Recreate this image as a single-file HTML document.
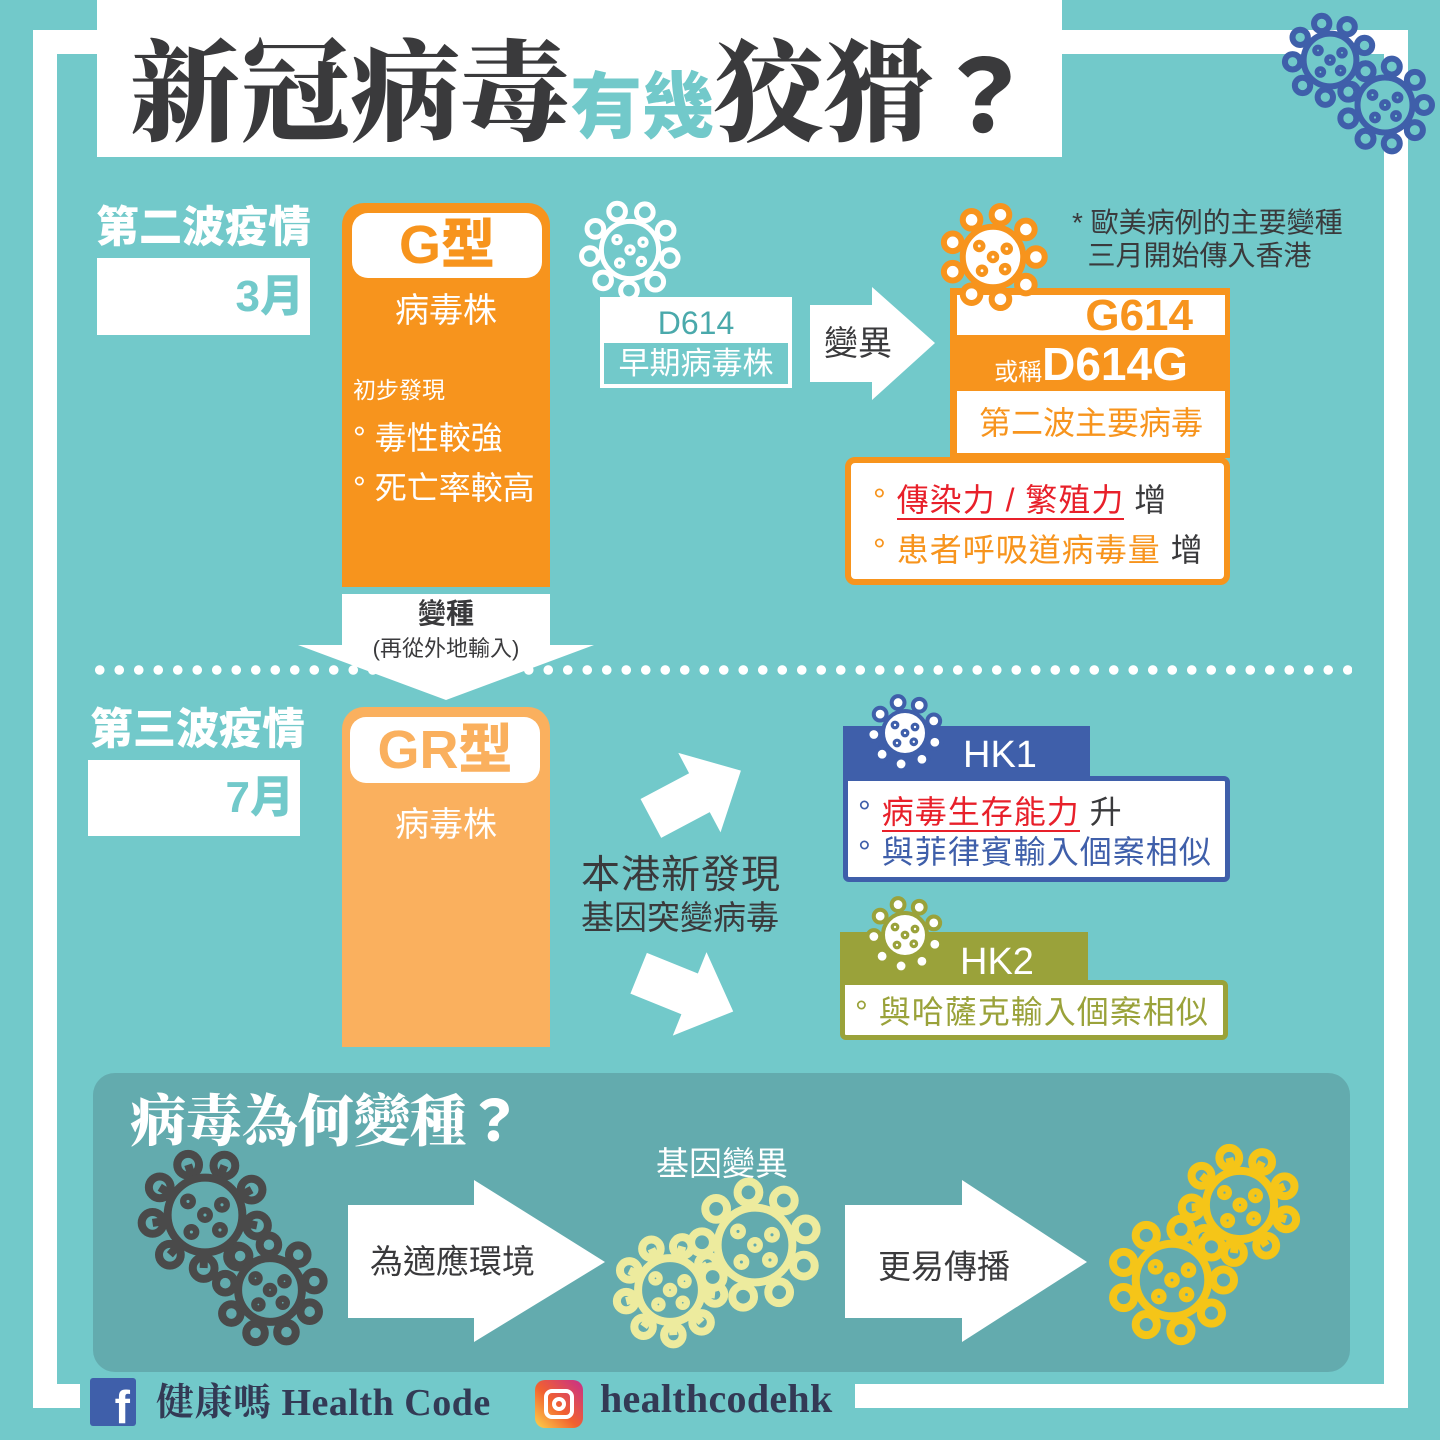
<!DOCTYPE html>
<html><head><meta charset="utf-8">
<style>
*{margin:0;padding:0;box-sizing:border-box}
body{width:1440px;height:1440px;position:relative;background:#72C9CA;font-family:"Liberation Sans","Noto Sans CJK TC",sans-serif;overflow:hidden}
.a{position:absolute}
.w{background:#fff}
</style></head><body>
<!-- frame -->
<div class="a w" style="left:33px;top:30px;width:1375px;height:24px"></div>
<div class="a w" style="left:33px;top:30px;width:24px;height:1378px"></div>
<div class="a w" style="left:1384px;top:30px;width:24px;height:1378px"></div>
<div class="a w" style="left:33px;top:1384px;width:1375px;height:24px"></div>
<div class="a" style="left:57px;top:54px;width:1327px;height:1330px;background:#72C9CA"></div>
<div class="a" style="left:80px;top:1375px;width:775px;height:50px;background:#72C9CA"></div>

<!-- title -->
<div class="a w" style="left:97px;top:0;width:965px;height:157px"></div>
<div class="a" style="left:130px;top:20px;white-space:nowrap;font-weight:900;color:#3a3a3c;font-size:110px;line-height:130px;font-family:'Noto Serif CJK SC','Noto Sans CJK TC',serif">新冠病毒<span style="font-size:72px;color:#72C9CA;font-family:'Noto Sans CJK TC',sans-serif">有幾</span>狡猾<span style="font-family:'Noto Sans CJK TC',sans-serif;font-size:100px">？</span></div>

<!-- second wave -->
<div class="a" style="left:96px;top:198px;font-size:43px;font-weight:900;color:#fff;line-height:60px">第二波疫情</div>
<div class="a w" style="left:97px;top:258px;width:213px;height:77px;text-align:right;padding-right:6px;color:#72C9CA;font-size:44px;font-weight:900;line-height:77px">3月</div>

<div class="a" style="left:342px;top:203px;width:208px;height:384px;background:#F7941D;border-radius:22px 22px 0 0"></div>
<div class="a w" style="left:352px;top:213px;width:190px;height:65px;border-radius:16px;text-align:center;color:#F7941D;font-size:54px;font-weight:900;line-height:65px">G型</div>
<div class="a" style="left:342px;top:288px;width:208px;text-align:center;color:#fff;font-size:34px;line-height:46px">病毒株</div>
<div class="a" style="left:353px;top:374px;color:#fff;font-size:23px;line-height:32px">初步發現</div>
<div class="a" style="left:353px;top:416px;color:#fff;font-size:32px;line-height:44px">° 毒性較強</div>
<div class="a" style="left:353px;top:466px;color:#fff;font-size:32px;line-height:44px">° 死亡率較高</div>

<svg class="a" style="left:0;top:0" width="1440" height="1440"><polygon points="342,594 550,594 550,645 594,645 446,700 298,645 342,645" fill="#fff"/></svg>
<div class="a" style="left:342px;top:596px;width:208px;text-align:center;color:#3a3a3c;font-size:28px;font-weight:700;line-height:36px">變種</div>
<div class="a" style="left:330px;top:634px;width:232px;text-align:center;color:#3a3a3c;font-size:22px;line-height:30px">(再從外地輸入)</div>

<div class="a" style="left:90px;top:664px;width:1262px;height:12px;background:radial-gradient(circle,#fff 4.5px,transparent 5px) 0 0/19.5px 12px repeat-x"></div>

<!-- D614 -->
<div class="a" style="left:600px;top:297px;width:192px;height:91px;background:#fff;border:4px solid #fff">
 <div style="height:42px;text-align:center;color:#4aa9ab;font-size:32px;line-height:44px">D614</div>
 <div style="height:41px;background:#72C9CA;text-align:center;color:#fff;font-size:31px;line-height:41px">早期病毒株</div>
</div>
<svg class="a" style="left:0;top:0" width="1440" height="1440"><polygon points="810,305 872,305 872,287 935,343 872,400 872,382 810,382" fill="#fff"/></svg>
<div class="a" style="left:824px;top:322px;color:#3a3a3c;font-size:34px;line-height:44px">變異</div>

<!-- G614 -->
<div class="a" style="left:950px;top:288px;width:280px;height:170px;background:#F7941D"></div>
<div class="a w" style="left:957px;top:295px;width:268px;height:40px;text-align:right;padding-right:32px;color:#F7941D;font-size:44px;font-weight:900;line-height:42px">G614</div>
<div class="a" style="left:957px;top:338px;width:268px;height:50px;text-align:center;color:#fff;font-weight:900;font-size:46px;line-height:52px"><span style="font-size:24px;font-weight:400">或稱</span>D614G</div>
<div class="a w" style="left:957px;top:391px;width:268px;height:62px;text-align:center;color:#F7941D;font-size:32px;line-height:64px">第二波主要病毒</div>
<div class="a w" style="left:845px;top:457px;width:385px;height:128px;border:6px solid #F7941D;border-radius:10px"></div>
<div class="a" style="left:873px;top:478px;font-size:32px;line-height:44px;color:#3a3a3c;white-space:nowrap;letter-spacing:1px"><span style="color:#F7941D">°</span> <span style="color:#E8202A;border-bottom:2px solid #E8202A">傳染力 / 繁殖力</span> 增</div>
<div class="a" style="left:873px;top:528px;font-size:32px;line-height:44px;color:#3a3a3c;white-space:nowrap;letter-spacing:1px"><span style="color:#F7941D">° 患者呼吸道病毒量</span> 增</div>
<div class="a" style="left:1072px;top:206px;font-size:28px;line-height:33px;color:#3a3a3c;white-space:nowrap">* 歐美病例的主要變種<br>&nbsp;&nbsp;三月開始傳入香港</div>

<!-- third wave -->
<div class="a" style="left:90px;top:700px;font-size:43px;font-weight:900;color:#fff;line-height:60px">第三波疫情</div>
<div class="a w" style="left:88px;top:760px;width:212px;height:76px;text-align:right;padding-right:6px;color:#72C9CA;font-size:44px;font-weight:900;line-height:76px">7月</div>
<div class="a" style="left:342px;top:707px;width:208px;height:340px;background:#FAB05E;border-radius:22px 22px 0 0"></div>
<div class="a w" style="left:350px;top:717px;width:190px;height:66px;border-radius:16px;text-align:center;color:#FAB05E;font-size:54px;font-weight:900;line-height:66px">GR型</div>
<div class="a" style="left:342px;top:802px;width:208px;text-align:center;color:#fff;font-size:34px;line-height:46px">病毒株</div>

<svg class="a" style="left:0;top:0" width="1440" height="1440">
 <g transform="translate(695,795) rotate(-28)"><polygon points="-50,-22 5,-22 5,-45 52,0 5,45 5,22 -50,22" fill="#fff"/></g>
 <g transform="translate(685,992) rotate(22)"><polygon points="-50,-22 5,-22 5,-45 52,0 5,45 5,22 -50,22" fill="#fff"/></g>
</svg>
<div class="a" style="left:581px;top:853px;font-size:39px;line-height:46px;color:#3a3a3c;letter-spacing:1px">本港新發現</div>
<div class="a" style="left:581px;top:897px;font-size:33px;line-height:42px;color:#3a3a3c">基因突變病毒</div>

<!-- HK1 -->
<div class="a" style="left:843px;top:726px;width:247px;height:52px;background:#3F5FAA;color:#fff;font-size:38px;line-height:58px;padding-left:120px">HK1</div>
<div class="a w" style="left:843px;top:776px;width:387px;height:106px;border:5px solid #3F5FAA;border-radius:0 6px 6px 6px"></div>
<div class="a" style="left:858px;top:790px;font-size:32px;line-height:44px;color:#3a3a3c;white-space:nowrap;letter-spacing:1px"><span style="color:#3F5FAA">°</span> <span style="color:#E8202A;border-bottom:2px solid #E8202A">病毒生存能力</span> 升</div>
<div class="a" style="left:858px;top:830px;font-size:32px;line-height:44px;color:#3F5FAA;white-space:nowrap;letter-spacing:1px">° 與菲律賓輸入個案相似</div>
<!-- HK2 -->
<div class="a" style="left:840px;top:932px;width:248px;height:50px;background:#9AA23A;color:#fff;font-size:38px;line-height:60px;padding-left:120px">HK2</div>
<div class="a w" style="left:840px;top:980px;width:388px;height:60px;border:5px solid #9AA23A;border-radius:0 6px 6px 6px"></div>
<div class="a" style="left:855px;top:990px;font-size:32px;line-height:44px;color:#9AA23A;white-space:nowrap;letter-spacing:1px">° 與哈薩克輸入個案相似</div>

<!-- bottom panel -->
<div class="a" style="left:93px;top:1073px;width:1257px;height:299px;background:#63ABAE;border-radius:22px"></div>
<div class="a" style="left:130px;top:1083px;font-size:56px;line-height:70px;color:#fff;font-weight:900;font-family:'Noto Serif CJK SC','Noto Sans CJK TC',serif;white-space:nowrap">病毒為何變種<span style="font-family:'Noto Sans CJK TC',sans-serif">？</span></div>
<div class="a" style="left:656px;top:1142px;font-size:33px;line-height:44px;color:#fff">基因變異</div>
<svg class="a" style="left:0;top:0" width="1440" height="1440">
 <polygon points="348,1205 474,1205 474,1180 605,1262 474,1342 474,1318 348,1318" fill="#fff"/>
 <polygon points="845,1205 962,1205 962,1180 1087,1262 962,1342 962,1318 845,1318" fill="#fff"/>
</svg>
<div class="a" style="left:370px;top:1240px;font-size:33px;line-height:44px;color:#3a3a3c">為適應環境</div>
<div class="a" style="left:878px;top:1245px;font-size:33px;line-height:44px;color:#3a3a3c">更易傳播</div>

<!-- footer -->
<div class="a" style="left:90px;top:1378px;width:46px;height:48px;background:#3F5FAA;border-radius:3px;color:#fff;font-size:46px;font-weight:700;text-align:right;padding-right:6px;line-height:58px;overflow:hidden">f</div>
<div class="a" style="left:156px;top:1378px;font-size:38px;line-height:50px;color:#333a55;font-weight:700;font-family:'Liberation Serif','Noto Serif CJK SC',serif;white-space:nowrap;letter-spacing:0.5px">健康嗎 Health Code</div>
<div class="a" style="left:535px;top:1380px;width:48px;height:48px;border-radius:10px;background:linear-gradient(45deg,#fdd34a,#f2622f 45%,#c72f8a)"><div style="position:absolute;left:9px;top:9px;width:30px;height:30px;border:4px solid #fff;border-radius:8px"></div><div style="position:absolute;left:17px;top:17px;width:14px;height:14px;border:4px solid #fff;border-radius:50%"></div></div>
<div class="a" style="left:600px;top:1374px;font-size:40px;line-height:50px;color:#333a55;font-weight:700;font-family:'Liberation Serif',serif;letter-spacing:0.3px">healthcodehk</div>

<svg class="a" style="left:0;top:0;pointer-events:none" width="1440" height="1440" id="icons"></svg>
<script>
const svg=document.getElementById('icons');
const NS='http://www.w3.org/2000/svg';
function virus(cx,cy,r,color,name,sw,fill,rot){
  const g=document.createElementNS(NS,'g');
  
  
  const n=9;rot=rot||0;
  // outline: body circle with stalked knobs, drawn as one path
  let d='';
  const body=r*0.55, knobR=r*0.16, stalk=r*0.78;
  for(let i=0;i<n;i++){
    const t=rot+i/n*Math.PI*2;
    const e=document.createElementNS(NS,'line');
    e.setAttribute('x1',cx+body*Math.cos(t));e.setAttribute('y1',cy+body*Math.sin(t));
    e.setAttribute('x2',cx+stalk*Math.cos(t));e.setAttribute('y2',cy+stalk*Math.sin(t));
    e.setAttribute('stroke',color);e.setAttribute('stroke-width',sw);g.appendChild(e);
    const k=document.createElementNS(NS,'circle');
    k.setAttribute('cx',cx+stalk*Math.cos(t));k.setAttribute('cy',cy+stalk*Math.sin(t));k.setAttribute('r',knobR);
    k.setAttribute('fill',fill||'none');k.setAttribute('stroke',color);k.setAttribute('stroke-width',sw);g.appendChild(k);
  }
  const b=document.createElementNS(NS,'circle');b.setAttribute('cx',cx);b.setAttribute('cy',cy);b.setAttribute('r',body);
  b.setAttribute('fill',fill||'none');b.setAttribute('stroke',color);b.setAttribute('stroke-width',sw);g.appendChild(b);
  [[0,0],[-.25,-.2],[.25,-.15],[-.2,.25],[.22,.22]].forEach(o=>{const c=document.createElementNS(NS,'circle');c.setAttribute('cx',cx+o[0]*r);c.setAttribute('cy',cy+o[1]*r);c.setAttribute('r',r*0.07);c.setAttribute('fill','none');c.setAttribute('stroke',color);c.setAttribute('stroke-width',sw*0.8);g.appendChild(c);});
  svg.appendChild(g);
}
virus(1330,60,48,'#3F5FAA','virus-top-blue-1',6,'#72C9CA',0.3);
virus(1385,105,50,'#3F5FAA','virus-top-blue-2',6,'#72C9CA',0);
virus(630,250,52,'#fff','virus-d614',5,'#72C9CA',0.2);
virus(993,257,55,'#F7941D','virus-g614',6,'#fff',0);
virus(905,733,40,'#3F5FAA','virus-hk1',4,'#fff',0.3);
virus(905,935,40,'#9AA23A','virus-hk2',4,'#fff',0.3);
virus(205,1215,68,'#4a4a4a','virus-gray-1',8,'none',0.2);
virus(270,1290,58,'#4a4a4a','virus-gray-2',8,'#63ABAE',0.5);
virus(670,1290,58,'#EDEB9E','virus-pale-1',8,'none',0.1);
virus(755,1245,68,'#EDEB9E','virus-pale-2',8,'#63ABAE',0.4);
virus(1240,1205,62,'#F5C518','virus-yellow-1',8,'none',0.3);
virus(1172,1280,66,'#F5C518','virus-yellow-2',8,'#63ABAE',0);
</script>
</body></html>
